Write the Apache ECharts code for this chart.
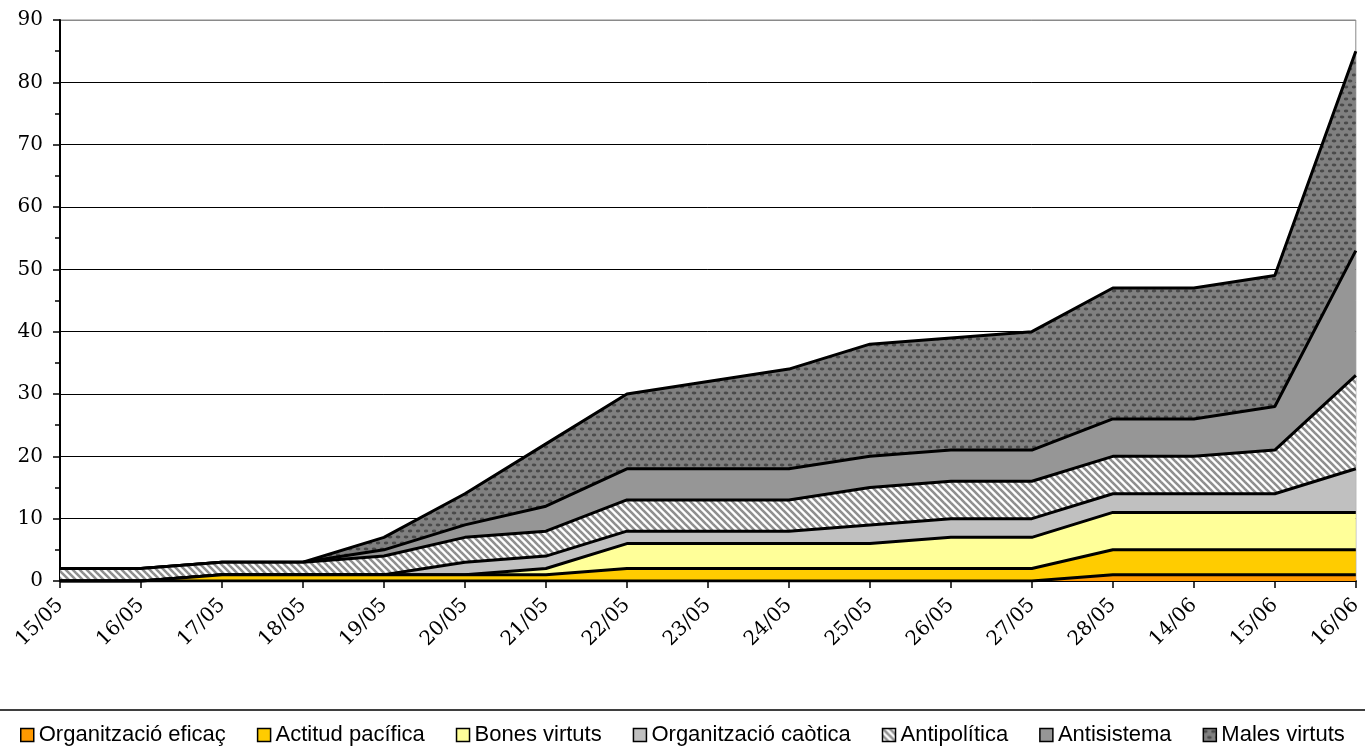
<!DOCTYPE html>
<html>
<head>
<meta charset="utf-8">
<script src="https://cdn.jsdelivr.net/npm/echarts@6/dist/echarts.min.js"></script>
<style>
  html, body { margin: 0; padding: 0; background: #fff; }
  #chart { width: 1365px; height: 753px; }
</style>
</head>
<body>
<div id="chart"></div>
<script>
// dates
var categories = ["15/05", "16/05", "17/05", "18/05", "19/05", "20/05", "21/05", "22/05", "23/05",
  "24/05", "25/05", "26/05", "27/05", "28/05", "14/06", "15/06", "16/06"];

// values per group (stacked, bottom to top)
var eficac = [0, 0, 0, 0, 0, 0, 0, 0, 0, 0, 0, 0, 0, 1, 1, 1, 1];
var pacifica = [0, 0, 1, 1, 1, 1, 1, 2, 2, 2, 2, 2, 2, 4, 4, 4, 4];
var bones = [0, 0, 0, 0, 0, 0, 1, 4, 4, 4, 4, 5, 5, 6, 6, 6, 6];
var caotica = [0, 0, 0, 0, 0, 2, 2, 2, 2, 2, 3, 3, 3, 3, 3, 3, 7];
var antipolitica = [2, 2, 2, 2, 3, 4, 4, 5, 5, 5, 6, 6, 6, 6, 6, 7, 15];
var antisistema = [0, 0, 0, 0, 1, 2, 4, 5, 5, 5, 5, 5, 5, 6, 6, 7, 20];
var males = [0, 0, 0, 0, 2, 5, 10, 12, 14, 16, 18, 18, 19, 21, 21, 21, 32];

var yTicks = [0, 10, 20, 30, 40, 50, 60, 70, 80, 90];

// hatch pattern (diagonal stripes)
function hatchPattern() {
  var p = 7;
  var c = document.createElement("canvas");
  c.width = p; c.height = p;
  var ctx = c.getContext("2d");
  ctx.fillStyle = "#ffffff";
  ctx.fillRect(0, 0, p, p);
  ctx.strokeStyle = "#8f8f8f";
  ctx.lineWidth = 2.6;
  for (var k = -1; k <= 1; k++) {
    ctx.beginPath();
    ctx.moveTo(-p, -p + k * p);
    ctx.lineTo(2 * p, 2 * p + k * p);
    ctx.stroke();
  }
  return { image: c, repeat: "repeat" };
}

// dotted pattern for "Males virtuts"
function dotPattern() {
  var c = document.createElement("canvas");
  c.width = 8; c.height = 12;
  var ctx = c.getContext("2d");
  ctx.fillStyle = "#808080";
  ctx.fillRect(0, 0, 8, 12);
  ctx.fillStyle = "#4a4a4a";
  var dots = [[2, 3], [6, 9], [-2, 9], [10, 9]];
  dots.forEach(function (d) {
    ctx.beginPath();
    ctx.ellipse(d[0], d[1], 2.3, 1.4, 0, 0, Math.PI * 2);
    ctx.fill();
  });
  return { image: c, repeat: "repeat" };
}

var groups = [
  { name: "Organització eficaç", data: eficac, fill: "#FF9900" },
  { name: "Actitud pacífica", data: pacifica, fill: "#FFCC00" },
  { name: "Bones virtuts", data: bones, fill: "#FFFF99" },
  { name: "Organització caòtica", data: caotica, fill: "#C0C0C0" },
  { name: "Antipolítica", data: antipolitica, fill: hatchPattern() },
  { name: "Antisistema", data: antisistema, fill: "#969696" },
  { name: "Males virtuts", data: males, fill: dotPattern() }
];

var series = groups.map(function (g, i) {
  return {
    name: g.name,
    type: "line",
    stack: "total",
    data: g.data,
    symbol: "none",
    z: 10 - i,
    itemStyle: { color: g.fill, borderColor: "#000", borderWidth: 1.5 },
    lineStyle: { color: "#000", width: 3 },
    areaStyle: { color: g.fill, opacity: 1 },
    emphasis: { disabled: true }
  };
});

var chart = echarts.init(document.getElementById("chart"));
var option = {
  animation: false,
  backgroundColor: "#fff",
  grid: {
    left: 60,
    right: 8,
    top: 20,
    bottom: 172,
    show: true,
    borderColor: "#8a8a8a",
    borderWidth: 1
  },
  legend: {
    left: 20,
    top: 724,
    padding: 0,
    icon: "rect",
    itemWidth: 13,
    itemHeight: 13,
    itemGap: 31,
    itemStyle: { borderColor: "#000", borderWidth: 1.5 },
    textStyle: { fontFamily: "Liberation Sans", fontSize: 22, color: "#000" },
    data: groups.map(function (g) { return g.name; })
  },
  graphic: [
    {
      type: "rect",
      silent: true,
      shape: { x: -2, y: 710, width: 1369, height: 60 },
      style: { fill: "none", stroke: "#000", lineWidth: 1.5 }
    }
  ],
  xAxis: {
    type: "category",
    data: categories,
    boundaryGap: false,
    axisLine: { lineStyle: { color: "#000", width: 2 } },
    axisTick: { show: true, length: 7, lineStyle: { color: "#000", width: 1.5 } },
    axisLabel: {
      rotate: 45,
      margin: 21,
      interval: 0,
      fontFamily: "DejaVu Serif",
      fontSize: 20,
      color: "#000"
    },
    splitLine: { show: false }
  },
  yAxis: {
    type: "value",
    min: yTicks[0],
    max: yTicks[yTicks.length - 1],
    interval: 10,
    axisLine: { show: true, lineStyle: { color: "#000", width: 2 } },
    axisTick: { show: true, length: 7, lineStyle: { color: "#000", width: 1.5 } },
    minorTick: { show: true, splitNumber: 2, length: 5, lineStyle: { color: "#000", width: 1.5 } },
    axisLabel: {
      margin: 17,
      fontFamily: "DejaVu Serif",
      fontSize: 20,
      color: "#000"
    },
    splitLine: {
      show: true,
      lineStyle: {
        color: ["#000", "#000", "#000", "#000", "#000", "#000", "#000", "#000", "#000", "#8a8a8a"],
        width: 1
      }
    }
  },
  series: series
};
chart.setOption(option);
</script>
</body>
</html>
